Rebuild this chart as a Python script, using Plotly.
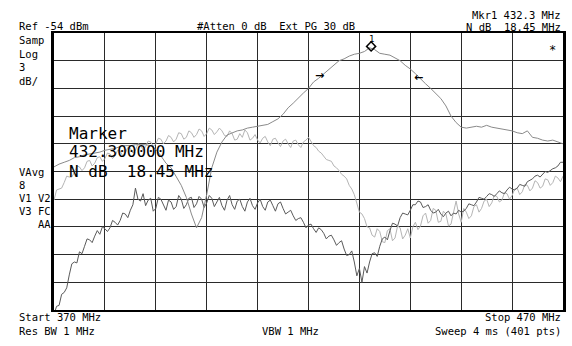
import plotly.graph_objects as go

freq_bell_mhz = list(range(370, 471))                 # 1 MHz steps
freq_noise_mhz = [370 + 0.5 * i for i in range(201)]  # 0.5 MHz steps

# Trace: bell-shaped response (medium gray), dBm
bell_dbm = [
    -68.5, -68.2, -68.0, -67.8, -67.5, -67.4, -67.2, -67.1, -67.0, -66.9,
    -66.7, -66.6, -66.5, -66.3, -66.2, -66.2, -66.1, -66.1, -66.1, -66.2,
    -66.6, -67.3, -68.1, -68.6, -69.5, -70.5, -71.8, -73.6, -75.1, -74.0,
    -71.5, -68.6, -66.9, -65.8, -65.05, -64.8, -64.6, -64.5, -64.3, -64.2,
    -64.1, -64.0, -63.9, -63.6, -63.3, -62.8, -62.1, -61.6, -61.0, -60.5,
    -60.0, -59.3, -58.9, -58.4, -58.0, -57.5, -57.0, -56.8, -56.5, -56.3,
    -56.2, -56.0, -55.6, -55.8, -56.2, -56.3, -56.4, -56.7, -57.0, -57.5,
    -57.9, -58.4, -59.0, -59.5, -60.0, -60.5, -61.1, -61.9, -63.0, -63.7,
    -64.2, -64.3, -64.2, -64.1, -64.2, -64.0, -64.2, -64.3, -64.4, -64.5,
    -64.6, -64.8, -64.9, -64.6, -65.3, -65.4, -65.6, -65.7, -65.6, -65.8,
    -66.0,
]

# Trace: light gray noisy trace, dBm (0.5 MHz steps)
light_dbm = [
    -72.1, -71.0, -70.9, -70.8, -70.2, -69.5, -69.6, -69.6, -69.1, -68.4,
    -68.5, -68.9, -68.6, -67.9, -67.8, -68.4, -68.1, -67.5, -67.4, -67.9,
    -67.6, -67.0, -67.1, -67.6, -67.3, -66.7, -66.8, -67.3, -67.0, -66.4,
    -66.5, -67.0, -66.7, -66.0, -66.1, -66.7, -66.3, -65.7, -65.8, -66.3,
    -66.0, -65.4, -65.5, -66.0, -65.7, -65.1, -65.3, -65.8, -65.5, -64.8,
    -64.9, -65.5, -65.3, -64.6, -64.8, -65.3, -65.0, -64.4, -64.6, -65.2,
    -64.9, -64.3, -64.5, -65.0, -64.7, -64.3, -64.6, -65.1, -65.2, -64.6,
    -64.9, -65.6, -65.5, -64.9, -65.3, -64.5, -64.8, -65.6, -65.4, -65.0,
    -65.6, -65.9, -65.4, -65.2, -65.8, -66.2, -65.5, -65.4, -65.9, -66.3,
    -65.7, -65.5, -66.0, -66.4, -65.7, -65.6, -66.1, -66.4, -65.8, -65.6,
    -65.3, -65.8, -66.2, -66.4, -66.8, -67.0, -67.3, -67.7, -67.8, -67.9,
    -68.4, -68.6, -68.9, -69.3, -69.5, -69.8, -70.5, -70.9, -71.5, -72.4,
    -73.4, -73.6, -74.1, -75.0, -75.1, -75.9, -76.1, -75.2, -75.5, -76.6,
    -76.7, -75.4, -75.2, -76.5, -76.2, -74.9, -75.1, -76.3, -75.9, -75.2,
    -76.2, -75.0, -74.5, -75.3, -74.9, -73.8, -73.5, -74.6, -74.3, -73.0,
    -73.2, -74.5, -74.4, -73.3, -73.6, -74.9, -74.7, -73.4, -72.2, -73.6,
    -74.5, -73.0, -73.4, -74.1, -73.8, -72.8, -72.6, -73.4, -73.0, -72.2,
    -72.0, -72.8, -72.4, -71.6, -71.7, -72.3, -72.1, -71.3, -71.4, -72.0,
    -71.6, -70.9, -70.8, -71.5, -71.2, -70.4, -70.5, -71.1, -70.8, -70.0,
    -70.2, -70.8, -70.6, -69.8, -69.9, -70.5, -70.2, -69.5, -69.7, -70.1,
    -69.5,
]

# Trace: dark gray noisy trace, dBm (0.5 MHz steps)
dark_dbm = [
    -84.5, -83.6, -83.5, -82.3, -82.1, -81.6, -80.2, -79.0, -78.8, -78.9,
    -77.7, -77.9, -77.1, -76.3, -76.4, -76.7, -76.0, -75.4, -75.8, -75.0,
    -75.2, -75.5, -75.1, -74.3, -74.5, -74.8, -74.3, -73.5, -73.6, -74.0,
    -73.2, -72.6, -70.8, -72.0, -72.2, -71.4, -72.7, -72.1, -71.9, -73.3,
    -73.0, -71.8, -72.0, -72.6, -73.2, -72.1, -72.3, -73.1, -72.8, -71.6,
    -72.0, -73.0, -72.6, -71.9, -71.8, -72.9, -72.5, -71.7, -72.0, -72.9,
    -72.4, -71.6, -71.9, -72.8, -72.3, -71.8, -72.7, -73.2, -72.1, -71.6,
    -72.6, -73.1, -72.2, -72.0, -72.8, -73.3, -72.3, -71.9, -72.7, -73.1,
    -72.4, -72.0, -72.8, -73.2, -72.3, -72.1, -72.7, -73.3, -72.5, -72.3,
    -73.0, -73.6, -73.4, -73.2, -73.8, -74.3, -74.1, -74.0, -74.5, -75.1,
    -74.8, -74.7, -75.2, -75.6, -75.1, -75.3, -75.7, -76.3, -76.0, -75.9,
    -76.4, -77.0, -76.7, -76.5, -77.4, -78.1, -78.0, -77.6, -78.8, -80.3,
    -79.5, -81.0, -79.3, -80.0, -78.8, -77.9, -77.8, -78.2, -77.1, -76.3,
    -76.1, -76.4, -75.4, -74.6, -74.7, -74.9, -74.0, -73.5, -73.6, -73.7,
    -73.2, -72.6, -72.6, -72.2, -72.3, -72.9, -72.8, -72.6, -73.2, -73.5,
    -73.4, -73.1, -73.6, -73.9, -73.5, -73.3, -73.8, -73.5, -73.6, -73.2,
    -73.4, -73.3, -73.0, -72.5, -72.6, -72.7, -72.3, -71.8, -71.9, -72.0,
    -71.7, -71.4, -71.5, -71.7, -71.4, -71.1, -71.3, -71.4, -71.0, -70.7,
    -70.9, -71.0, -70.8, -70.4, -70.5, -70.6, -70.1, -69.9, -69.8, -69.5,
    -69.4, -69.6, -69.3, -69.0, -69.1, -68.9, -68.7, -68.6, -68.4, -68.0,
    -68.0,
]

marker_freq = 432.3
marker_level = -55.45
ndb_width = 18.45
ref_level = -54
db_per_div = 3

fig = go.Figure()
fig.add_trace(go.Scatter(x=freq_noise_mhz, y=light_dbm, mode="lines",
                         line=dict(color="#b4b4b4", width=1), hoverinfo="skip"))
fig.add_trace(go.Scatter(x=freq_noise_mhz, y=dark_dbm, mode="lines",
                         line=dict(color="#5a5a5a", width=1), hoverinfo="skip"))
fig.add_trace(go.Scatter(x=freq_bell_mhz, y=bell_dbm, mode="lines",
                         line=dict(color="#8a8a8a", width=1), hoverinfo="skip"))
fig.add_trace(go.Scatter(x=[marker_freq], y=[marker_level], mode="markers",
                         marker=dict(symbol="diamond-open", size=7,
                                     color="black", line=dict(width=1.5)),
                         hoverinfo="skip"))

MONO = "DejaVu Sans Mono"


def ax(px):
    return (px - 54) / 512


def ay(py):
    return (310 - py) / 277


small = [
    ("Ref -54 dBm", 17, 26, "left"),
    ("#Atten 0 dB  Ext PG 30 dB", 196, 26, "left"),
    ("Mkr1 432.3 MHz", 566, 15, "right"),
    ("N dB  18.45 MHz", 566, 27, "right"),
    ("Samp", 17, 40, "left"),
    ("Log", 17, 54, "left"),
    ("3", 17, 67, "left"),
    ("dB/", 17, 81, "left"),
    ("VAvg", 17, 172, "left"),
    ("8", 17, 185, "left"),
    ("V1 V2", 17, 198, "left"),
    ("V3 FC", 17, 211, "left"),
    ("AA", 53, 224, "right"),
    ("Start 370 MHz", 17, 317, "left"),
    ("Res BW 1 MHz", 17, 331, "left"),
    ("VBW 1 MHz", 261, 331, "left"),
    ("Stop 470 MHz", 566, 317, "right"),
    ("Sweep 4 ms (401 pts)", 566, 331, "right"),
]

annotations = []
for text, px, py, anchor in small:
    annotations.append(dict(text=text, x=ax(px), y=ay(py), xref="paper", yref="paper",
                            xanchor=anchor, yanchor="middle", showarrow=False,
                            font=dict(family=MONO, size=10.5, color="black")))

big = [
    ("Marker", 133),
    ("432.300000 MHz", 151),
    ("N dB  18.45 MHz", 171),
]
for text, py in big:
    annotations.append(dict(text=text, x=ax(67), y=ay(py), xref="paper", yref="paper",
                            xanchor="left", yanchor="middle", showarrow=False,
                            font=dict(family=MONO, size=16, color="black")))

# marker number, N dB arrows, asterisk
annotations.append(dict(text="1", x=marker_freq, y=marker_level + 0.85, xref="x", yref="y",
                        showarrow=False, xanchor="center", yanchor="middle",
                        font=dict(family=MONO, size=9, color="black")))
annotations.append(dict(text="<b>→</b>", x=marker_freq - ndb_width / 2 - 1.0, y=-58.55,
                        xref="x", yref="y", showarrow=False,
                        font=dict(family="DejaVu Sans", size=11, color="black")))
annotations.append(dict(text="<b>←</b>", x=marker_freq + ndb_width / 2, y=-58.8,
                        xref="x", yref="y", showarrow=False,
                        font=dict(family="DejaVu Sans", size=11, color="black")))
annotations.append(dict(text="*", x=468.0, y=-55.8, xref="x", yref="y", showarrow=False,
                        font=dict(family=MONO, size=12, color="black")))

fig.update_layout(
    width=572, height=346,
    margin=dict(l=54, r=6, t=33, b=36),
    paper_bgcolor="white", plot_bgcolor="white",
    showlegend=False,
    annotations=annotations,
    xaxis=dict(range=[370, 470], tick0=370, dtick=10, showticklabels=False, ticks="",
               showgrid=True, gridcolor="#2a2a2a", gridwidth=1, zeroline=False,
               showline=True, linecolor="black", linewidth=2, mirror=True,
               fixedrange=True),
    yaxis=dict(range=[ref_level - 10 * db_per_div, ref_level], tick0=ref_level, dtick=db_per_div,
               showticklabels=False, ticks="", showgrid=True, gridcolor="#2a2a2a",
               gridwidth=1, zeroline=False, showline=True, linecolor="black",
               linewidth=3, mirror=True, fixedrange=True),
)

fig.write_html("out.html", config={"displayModeBar": False},
               post_script="document.body.style.margin='0px';document.body.style.overflow='hidden';")
